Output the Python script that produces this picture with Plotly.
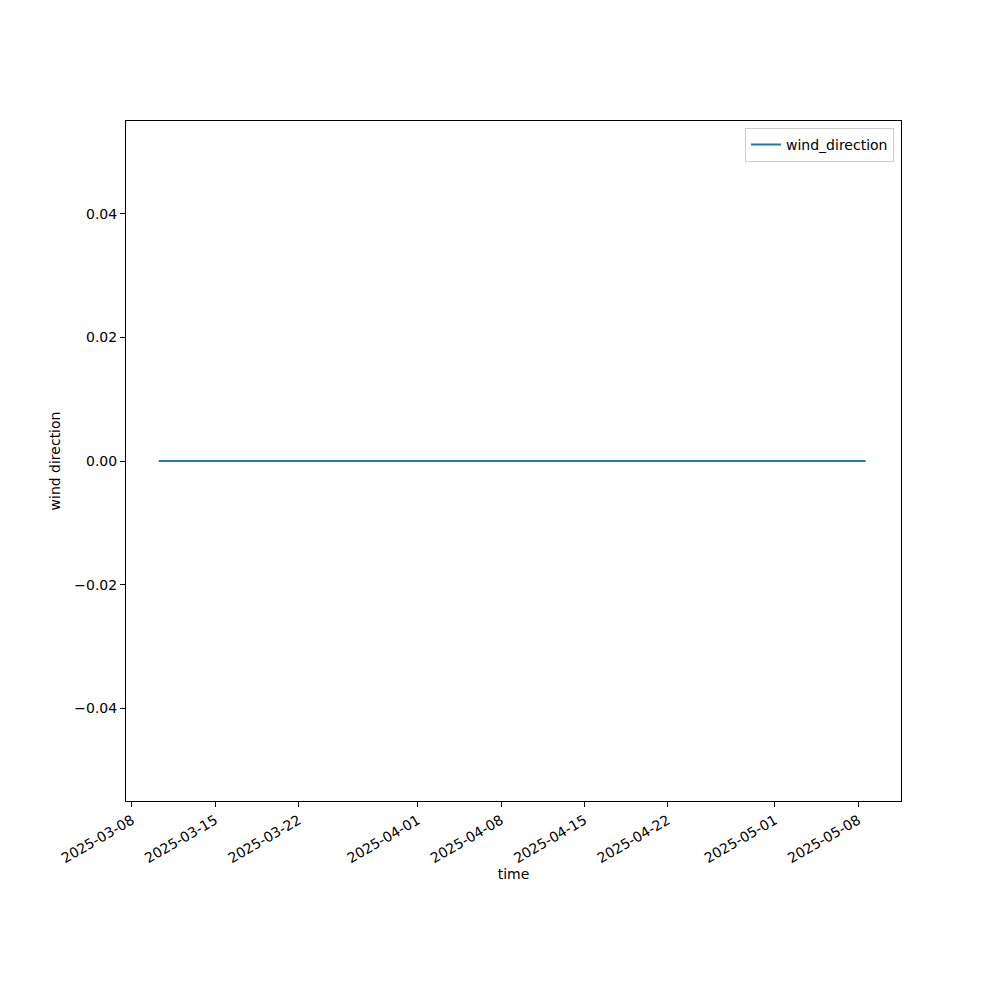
import plotly.graph_objects as go

# Data
times = ["2025-03-10 06:00", "2025-03-24 06:00", "2025-04-07 06:00",
         "2025-04-21 06:00", "2025-05-05 06:00", "2025-05-08 15:00"]
wind_direction = [0.0, 0.0, 0.0, 0.0, 0.0, 0.0]

tick_dates = ["2025-03-08", "2025-03-15", "2025-03-22", "2025-04-01",
              "2025-04-08", "2025-04-15", "2025-04-22", "2025-05-01", "2025-05-08"]
y_ticks = [-0.04, -0.02, 0.0, 0.02, 0.04]
y_tick_labels = ["\u22120.04", "\u22120.02", "0.00", "0.02", "0.04"]

font = dict(family="DejaVu Sans", size=14, color="black")

fig = go.Figure()
fig.add_trace(go.Scatter(
    x=times, y=wind_direction, mode="lines", name="wind_direction",
    line=dict(color="#1f77b4", width=2),
))

fig.update_layout(
    width=1000, height=1000,
    margin=dict(l=118, r=107, t=113, b=207),
    paper_bgcolor="white", plot_bgcolor="white",
    font=font,
    showlegend=True,
    legend=dict(x=0.991, y=0.99, xanchor="right", yanchor="top",
                bordercolor="#cccccc", borderwidth=1, bgcolor="white",
                font=dict(family="DejaVu Sans", size=14)),
    xaxis=dict(
        type="date",
        range=["2025-03-07 12:00", "2025-05-11 14:15"],
        tickmode="array", tickvals=tick_dates, ticktext=tick_dates,
        tickangle=-30, ticks="outside", ticklen=5, tickwidth=1, tickcolor="black",
        showline=True, linecolor="black", linewidth=1, mirror=True,
        showgrid=False, zeroline=False,
        title=dict(text="time", font=font, standoff=4),
    ),
    yaxis=dict(
        range=[-0.055, 0.055],
        tickmode="array", tickvals=y_ticks, ticktext=y_tick_labels,
        ticks="outside", ticklen=5, tickwidth=1, tickcolor="black",
        showline=True, linecolor="black", linewidth=1, mirror=True,
        showgrid=False, zeroline=False,
        title=dict(text="wind direction", font=font, standoff=10),
    ),
)

fig.write_html("out.html")
